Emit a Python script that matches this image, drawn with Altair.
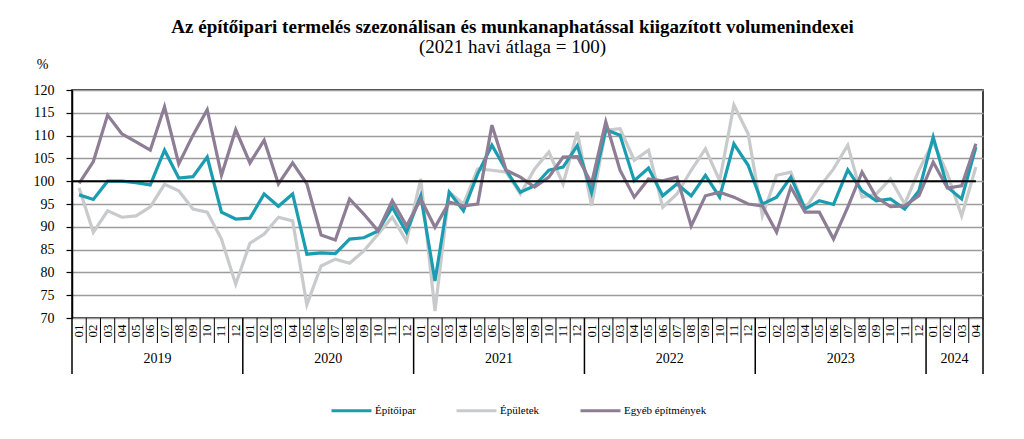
import altair as alt
import pandas as pd

months = ["01", "02", "03", "04", "05", "06", "07", "08", "09", "10", "11", "12"]
years = ["2019", "2020", "2021", "2022", "2023", "2024"]
series_names = ["Építőipar", "Épületek", "Egyéb építmények"]
series_colors = ["#1b9db1", "#c9cacc", "#8d7d95"]
y_ticks = [70, 75, 80, 85, 90, 95, 100, 105, 110, 115, 120]

epitoipar = [97.0, 96.0, 100.0, 100.0, 99.7, 99.2, 106.8, 100.7, 101.0, 105.3, 93.2, 91.7,
             91.9, 97.2, 94.5, 97.2, 84.0, 84.3, 84.1, 87.3, 87.6, 89.1, 94.3, 88.8,
             96.8, 78.1, 97.6, 93.5, 101.6, 107.9, 102.4, 97.6, 99.0, 102.4, 103.1, 107.8,
             97.5, 111.3, 110.1, 100.1, 102.9, 96.8, 99.4, 96.8, 101.3, 96.5, 108.2, 103.5,
             95.0, 96.5, 100.9, 93.9, 95.7, 94.9, 102.5, 97.9, 95.7, 96.1, 93.9, 97.9,
             109.7, 98.7, 96.1, 107.5]
epuletek = [98.5, 88.8, 93.5, 92.1, 92.4, 94.4, 99.3, 97.9, 93.9, 93.2, 87.3, 77.4,
            86.4, 88.4, 92.1, 91.3, 72.9, 81.4, 82.9, 82.0, 84.7, 88.4, 92.1, 86.9,
            100.5, 71.5, 97.6, 95.0, 102.7, 102.4, 102.0, 97.2, 102.7, 106.4, 99.4, 110.8,
            94.6, 111.2, 111.5, 104.6, 106.8, 94.3, 97.2, 102.4, 107.1, 100.1, 116.7, 110.4,
            92.4, 101.3, 102.0, 93.9, 98.7, 102.7, 107.9, 96.5, 97.2, 100.5, 95.0, 102.4,
            108.6, 101.6, 92.4, 103.1]
egyeb = [99.5, 104.3, 114.5, 110.4, 108.6, 106.8, 116.3, 103.8, 110.1, 115.7, 101.3, 111.3,
         104.0, 109.0, 99.4, 104.0, 99.4, 88.2, 87.1, 96.1, 92.8, 89.1, 95.7, 90.2,
         96.1, 89.9, 95.4, 94.6, 95.0, 112.3, 102.4, 100.9, 98.7, 100.9, 105.3, 105.4,
         99.5, 113.0, 102.4, 96.5, 100.5, 100.1, 100.9, 90.2, 96.8, 97.6, 96.5, 95.0,
         94.6, 88.8, 98.7, 93.2, 93.2, 87.3, 94.3, 102.0, 96.5, 94.4, 94.6, 96.8,
         104.2, 98.5, 99.0, 108.2]

n = len(epitoipar)
period_month = [months[i % 12] for i in range(n)]
pos = [i + 0.5 for i in range(n)]

# draw order: Épületek (bottom), Építőipar, Egyéb építmények (top)
rows = []
for name, vals in [("Épületek", epuletek), ("Építőipar", epitoipar), ("Egyéb építmények", egyeb)]:
    for p, v in zip(pos, vals):
        rows.append({"series": name, "pos": p, "value": v})
df = pd.DataFrame(rows)

FONT = "'Liberation Serif', 'Times New Roman', serif"
xscale = alt.Scale(domain=[0, n], nice=False, zero=False)
yscale = alt.Scale(domain=[70, 120], nice=False, zero=False)

y_axis = alt.Axis(values=y_ticks, title="%", labelOverlap=False)

lines = alt.Chart(df).mark_line(strokeWidth=3.2).encode(
    x=alt.X("pos:Q", scale=xscale, axis=None),
    y=alt.Y("value:Q", scale=yscale, axis=y_axis),
    color=alt.Color("series:N",
                    scale=alt.Scale(domain=series_names, range=series_colors),
                    legend=alt.Legend(title=None, orient="none", direction="horizontal",
                                      legendX=258, legendY=299, symbolType="stroke",
                                      symbolSize=1600, symbolStrokeWidth=3,
                                      labelFont=FONT, labelFontSize=11, labelColor="black",
                                      labelOffset=2, columnPadding=34)),
)

base100 = alt.Chart(pd.DataFrame({"x": [0], "x2": [n - 0.5], "y": [100]})).mark_rule(
    color="black", strokeWidth=2).encode(
    x=alt.X("x:Q", scale=xscale, axis=None), x2="x2:Q",
    y=alt.Y("y:Q", scale=yscale, axis=y_axis))

month_seps = pd.DataFrame({"x": [k for k in range(1, n) if k % 12 != 0]})
year_seps = pd.DataFrame({"x": [k for k in range(0, n + 1) if k % 12 == 0 or k == n]})

msep = alt.Chart(month_seps).mark_rule(color="black", strokeWidth=1).encode(
    x=alt.X("x:Q", scale=xscale, axis=None), y=alt.value(228), y2=alt.value(253))
ysep = alt.Chart(year_seps).mark_rule(color="black", strokeWidth=1.5).encode(
    x=alt.X("x:Q", scale=xscale, axis=None), y=alt.value(228), y2=alt.value(284))

mlabels = alt.Chart(pd.DataFrame({"pos": pos, "m": period_month})).mark_text(
    angle=270, font=FONT, fontSize=13, align="center", baseline="middle", color="black").encode(
    x=alt.X("pos:Q", scale=xscale, axis=None), y=alt.value(241), text="m:N")

ycenters = [min(12 * (j + 1), n) / 2 + 12 * j / 2 for j in range(len(years))]
ylabels = alt.Chart(pd.DataFrame({"pos": ycenters, "y": years})).mark_text(
    font=FONT, fontSize=14, align="center", baseline="middle", color="black").encode(
    x=alt.X("pos:Q", scale=xscale, axis=None), y=alt.value(269), text="y:N")

chart = alt.layer(lines, base100, msep, ysep, mlabels, ylabels).properties(
    width=911, height=228,
    autosize=alt.AutoSizeParams(type="none"),
    padding={"left": 64, "top": 82, "right": 33, "bottom": 113},
    view=alt.ViewBackground(stroke="black", strokeWidth=1.5),
    title=alt.TitleParams(
        text="Az építőipari  termelés szezonálisan és munkanaphatással kiigazított volumenindexei",
        subtitle="(2021 havi átlaga = 100)",
        font=FONT, fontSize=19, fontWeight="bold", color="black",
        subtitleFont=FONT, subtitleFontSize=19, subtitleColor="black", subtitlePadding=1,
        anchor="middle", frame="group", dx=-15, offset=0),
).configure(
    background="white",
    font=FONT,
    view=alt.ViewConfig(stroke="black", strokeWidth=1.5),
    axisY=alt.AxisConfig(grid=True, gridColor="#9c9c9c", gridWidth=1.3,
                         domainColor="black", domainWidth=1.5,
                         tickColor="black", tickSize=6, tickWidth=1.2, labelPadding=12,
                         labelFont=FONT, labelFontSize=14, labelColor="black",
                         titleAngle=0, titleFont=FONT, titleFontSize=14,
                         titleFontWeight="normal", titleX=-30, titleY=-26,
                         titleAlign="center", titleBaseline="middle", titleColor="black"),
    legend=alt.LegendConfig(labelFont=FONT),
)

chart.save("out.html", embed_options={"renderer": "svg", "actions": False})
